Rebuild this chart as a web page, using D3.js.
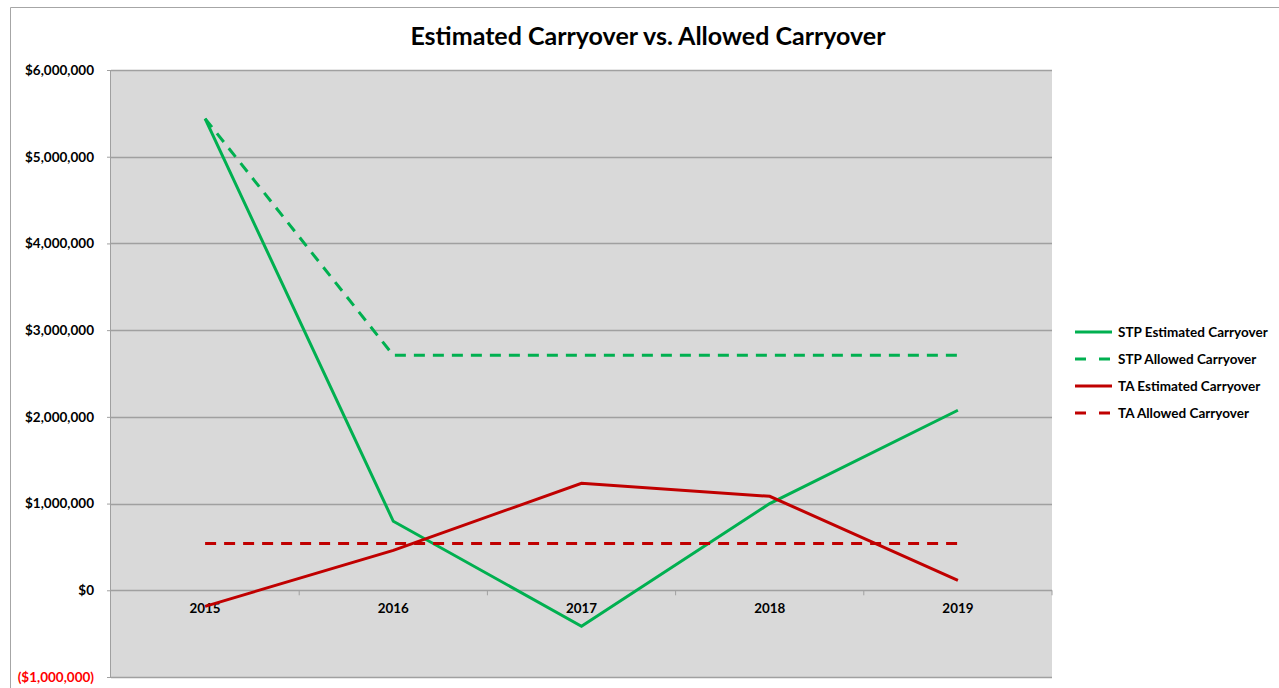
<!DOCTYPE html>
<html>
<head>
<meta charset="utf-8">
<script src="https://cdn.jsdelivr.net/npm/d3@7"></script>
<style>
  body { margin: 0; background: #fff; }
  text { font-family: Lato, "Open Sans", sans-serif; font-weight: bold; }
</style>
</head>
<body>
<div id="chart"></div>
<script>
// chart data
const years = ["2015", "2016", "2017", "2018", "2019"];
const stpEstimated = [5440000, 796000, -415000, 1000000, 2076000];
const stpAllowed = [5440000, 2710000, 2710000, 2710000, 2710000];
const taEstimated = [-185000, 460000, 1234000, 1084000, 115000];
const taAllowed = [540000, 540000, 540000, 540000, 540000];
const yTicks = [-1000000, 0, 1000000, 2000000, 3000000, 4000000, 5000000, 6000000];

const series = [
    {name: "STP Estimated Carryover", values: stpEstimated, color: "#00B050", dash: null},
    {name: "STP Allowed Carryover", values: stpAllowed, color: "#00B050", dash: "11,8"},
    {name: "TA Estimated Carryover", values: taEstimated, color: "#C00000", dash: null},
    {name: "TA Allowed Carryover", values: taAllowed, color: "#C00000", dash: "11,8"}
];

const W = 1279, H = 688;
const margin = {top: 70, left: 111, right: 1279 - 1052, bottom: 688 - 677};
const width = W - margin.left - margin.right;
const height = H - margin.top - margin.bottom;

const svg = d3.select("#chart").append("svg")
    .attr("width", W)
    .attr("height", H);

// outer chart border
svg.append("path")
    .attr("d", "M10.5," + H + "V7.5H" + W)
    .attr("fill", "none")
    .attr("stroke", "#a6a6a6");

svg.append("text")
    .attr("x", 648)
    .attr("y", 45)
    .attr("text-anchor", "middle")
    .style("font-size", "25px")
    .attr("fill", "#000")
    .text("Estimated Carryover vs. Allowed Carryover");

const g = svg.append("g")
    .attr("transform", "translate(" + margin.left + "," + margin.top + ")");

const x = d3.scaleBand().domain(years).range([0, width]);
const y = d3.scaleLinear().domain([-1000000, 6000000]).range([height, 0]);

g.append("rect")
    .attr("width", width)
    .attr("height", height)
    .attr("fill", "#d9d9d9");

// gridlines
g.selectAll(".grid")
    .data(yTicks)
    .join("line")
    .attr("class", "grid")
    .attr("x1", 0)
    .attr("x2", width)
    .attr("y1", d => Math.round(y(d)) + 0.5)
    .attr("y2", d => Math.round(y(d)) + 0.5)
    .attr("stroke", "#a0a0a0")
    .attr("stroke-width", 1.5);

// y axis
const fmt = d3.format(",");
const yAxis = g.append("g")
    .call(d3.axisLeft(y).tickValues(yTicks).tickSize(4).tickPadding(13)
        .tickFormat(d => d < 0 ? "($" + fmt(-d) + ")" : "$" + fmt(d)));
yAxis.select(".domain").attr("stroke", "#a0a0a0").attr("d", "M-0.5,0V" + height);
yAxis.selectAll(".tick line").attr("stroke", "#a0a0a0");
yAxis.selectAll(".tick text")
    .style("font-size", "13.5px")
    .style("font-family", "Lato, sans-serif")
    .attr("fill", d => d < 0 ? "#ff0000" : "#000");

// x axis on the zero line
const xAxis = g.append("g")
    .attr("transform", "translate(0," + y(0) + ")")
    .call(d3.axisBottom(x).tickSize(0).tickPadding(13));
xAxis.select(".domain").remove();
xAxis.selectAll(".tick text")
    .style("font-size", "13.4px")
    .style("font-family", "Lato, sans-serif")
    .attr("fill", "#000");

// category separators below zero line
g.append("g")
    .selectAll("line")
    .data(years)
    .join("line")
    .attr("x1", d => x(d) + x.bandwidth())
    .attr("x2", d => x(d) + x.bandwidth())
    .attr("y1", y(0))
    .attr("y2", y(0) + 5)
    .attr("stroke", "#a0a0a0");

// series lines
const line = d3.line()
    .x((d, i) => x(years[i]) + x.bandwidth() / 2)
    .y(d => y(d));

g.selectAll(".series")
    .data(series)
    .join("path")
    .attr("class", "series")
    .attr("d", d => line(d.values))
    .attr("fill", "none")
    .attr("stroke", d => d.color)
    .attr("stroke-width", 3)
    .attr("stroke-dasharray", d => d.dash);

// legend
const legend = svg.append("g")
    .attr("transform", "translate(1075,332)");

const item = legend.selectAll("g")
    .data(series)
    .join("g")
    .attr("transform", (d, i) => "translate(0," + i * 27 + ")");

item.append("line")
    .attr("x1", 0)
    .attr("x2", 37)
    .attr("stroke", d => d.color)
    .attr("stroke-width", 3)
    .attr("stroke-dasharray", d => d.dash ? "11,13" : null);

item.append("text")
    .attr("x", 43)
    .attr("y", 5)
    .style("font-size", "13.5px")
    .attr("fill", "#000")
    .text(d => d.name);
</script>
</body>
</html>
